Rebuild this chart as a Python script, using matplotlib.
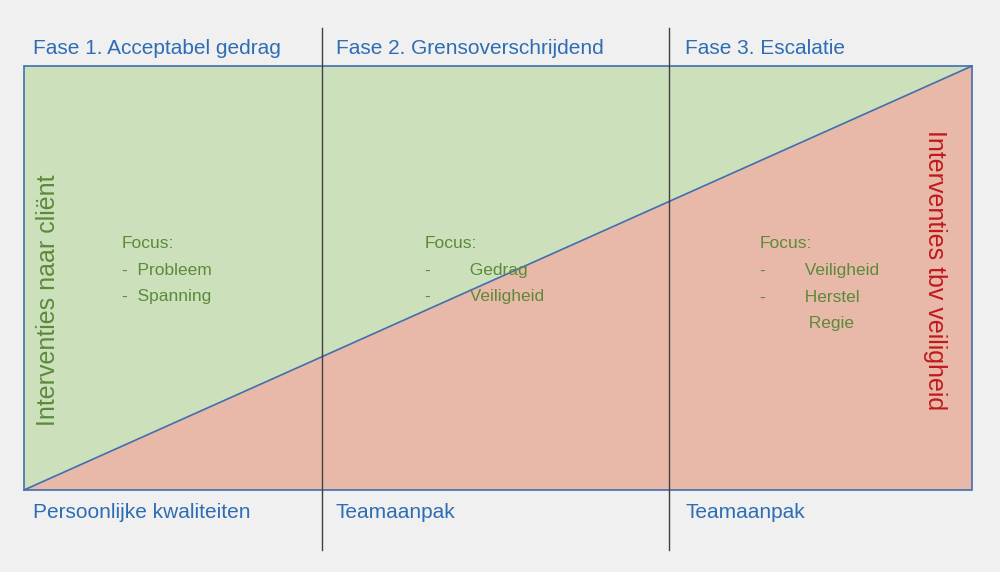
import matplotlib
matplotlib.use("Agg")
import matplotlib.pyplot as plt
from matplotlib.patches import Polygon

phases = ["Fase 1. Acceptabel gedrag", "Fase 2. Grensoverschrijdend", "Fase 3. Escalatie"]
bottom_labels = ["Persoonlijke kwaliteiten", "Teamaanpak", "Teamaanpak"]
focus_lines = [
    ["Focus:", "-  Probleem", "-  Spanning"],
    ["Focus:", "-        Gedrag", "-        Veiligheid"],
    ["Focus:", "-        Veiligheid", "-        Herstel", "          Regie"],
]
left_label = "Interventies naar cliënt"
right_label = "Interventies tbv veiligheid"

blue = "#2e6db4"
fig = plt.figure(figsize=(10, 5.72), dpi=100, facecolor="#f0f0f0")
ax = fig.add_axes([0, 0, 1, 1])
ax.set_xlim(0, 1000); ax.set_ylim(572, 0); ax.axis("off")
ax.set_facecolor("#f0f0f0")

L, R, T, B = 24, 972, 66, 490
ax.add_patch(Polygon([(L, T), (R, T), (L, B)], closed=True, fc="#cde0bc", ec="none"))
ax.add_patch(Polygon([(L, B), (R, T), (R, B)], closed=True, fc="#e8b9a9", ec="none"))
ax.add_patch(Polygon([(L, T), (R, T), (R, B), (L, B)], closed=True, fc="none", ec="#3f6fb0", lw=1.2))
ax.plot([L, R], [B, T], color="#3f6fb0", lw=1.2)
for x in (322, 669):
    ax.plot([x, x], [28, 550], color="#404040", lw=1)

xs = [33, 336, 685]
for x, t in zip(xs, phases):
    ax.text(x, 48, t, color=blue, fontsize=15, va="center", ha="left", family="Calibri, Carlito, Liberation Sans".split(", ")[-1])
for x, t in zip(xs, bottom_labels):
    ax.text(x, 513, t, color=blue, fontsize=15, va="center", ha="left", family="Liberation Sans")

fx = [122, 425, 760]
for x, lines in zip(fx, focus_lines):
    for i, line in enumerate(lines):
        ax.text(x, 244 + i * 26.5, line, color="#5c8a3a", fontsize=12.5, va="center", ha="left", family="Liberation Sans")

ax.text(48, 300, left_label, color="#5c8a3a", fontsize=18, rotation=90, va="center", ha="center", family="Liberation Sans")
ax.text(935, 270, right_label, color="#c0191c", fontsize=18, rotation=-90, va="center", ha="center", family="Liberation Sans")

fig.savefig("out.png", dpi=100, facecolor=fig.get_facecolor())
